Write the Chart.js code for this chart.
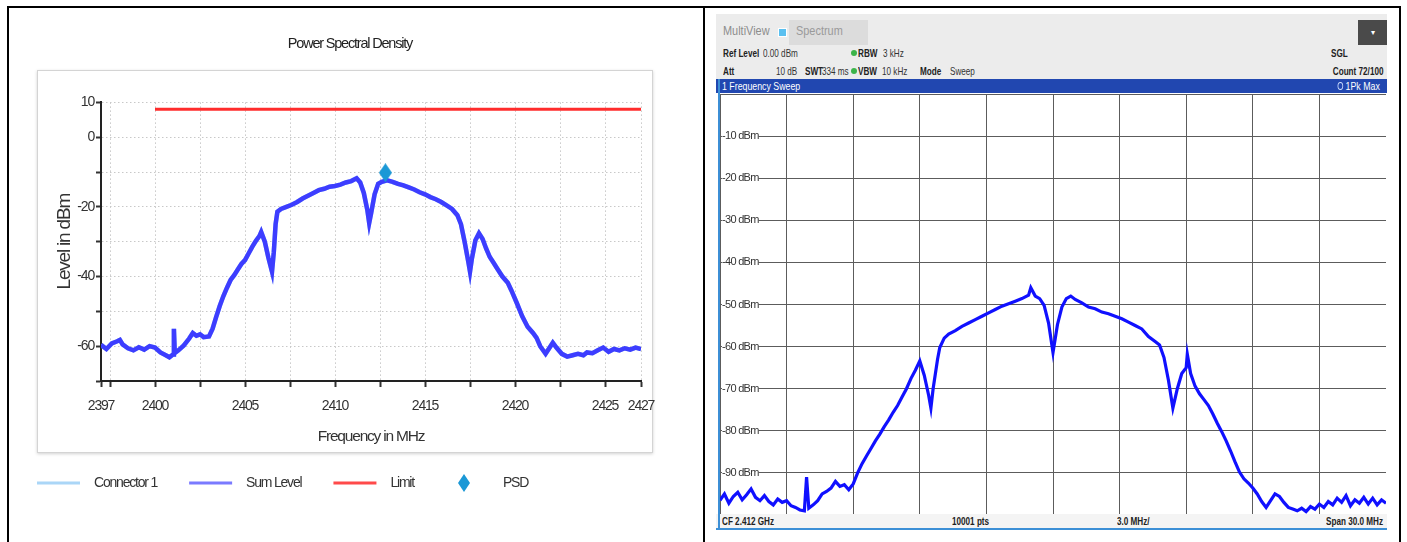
<!DOCTYPE html>
<html>
<head>
<meta charset="utf-8">
<script src="https://cdn.jsdelivr.net/npm/chart.js@4.4.1/dist/chart.umd.min.js"></script>
<style>
body{margin:0;width:1407px;height:542px;background:#fff;position:relative;overflow:hidden;
  font-family:'Liberation Sans',Arial,sans-serif;}
.ln{position:absolute;background:#000;}
#frame{position:absolute;left:37px;top:70px;width:614px;height:381px;border:1px solid #d4d4d4;
  box-shadow:0 1px 3px rgba(0,0,0,0.18);background:#fff;}
#psdChart{position:absolute;left:5px;top:10px;}
#saHead{position:absolute;left:716px;top:14px;width:671px;height:65px;background:#ececec;}
#saBar{position:absolute;left:716px;top:79px;width:671px;height:14px;background:#2147b0;color:#fff;font-size:11px;}
#saChart{position:absolute;left:720px;top:94px;}
#saFoot{position:absolute;left:716px;top:514px;width:671px;height:14px;background:#f4f4f4;border-bottom:2px solid #3c8fd6;font-size:11px;font-weight:bold;color:#222;}
#saLeft{position:absolute;left:718px;top:79px;width:2px;height:451px;background:#3c8fd6;}
.t{position:absolute;white-space:nowrap;line-height:12px;font-size:11px;transform:scaleX(.74);transform-origin:left top;}
.r{transform-origin:right top;}
.b{font-weight:bold;color:#222;}
.n{color:#333;}
.dot{position:absolute;width:6px;height:6px;border-radius:50%;background:#3cb44a;}
</style>
</head>
<body>
<div class="ln" style="left:7px;top:6px;width:1394px;height:2px"></div>
<div class="ln" style="left:7px;top:6px;width:2px;height:540px"></div>
<div class="ln" style="left:703px;top:6px;width:2px;height:540px"></div>
<div class="ln" style="left:1399px;top:6px;width:2px;height:540px"></div>

<div id="frame"></div>
<canvas id="psdChart" width="690" height="490"></canvas>

<div id="saHead">
  <span class="t" style="left:7px;top:11px;font-size:13px;color:#8c8c8c;transform:scaleX(.84)">MultiView</span>
  <span style="position:absolute;left:62px;top:14px;width:7px;height:7px;background:#5bc0f0;border:1px solid #fff"></span>
  <div style="position:absolute;left:73px;top:6px;width:79px;height:25px;background:#dcdcdc"></div>
  <span class="t" style="left:80px;top:11px;font-size:13px;color:#9a9a9a;transform:scaleX(.84)">Spectrum</span>
  <div style="position:absolute;left:642px;top:6px;width:29px;height:25px;background:#4a4a4a;color:#fff;font-size:8px;text-align:center;line-height:25px">&#9662;</div>
  <span class="t b" style="left:7px;top:33px">Ref Level</span>
  <span class="t n" style="left:47px;top:33px">0.00 dBm</span>
  <span class="dot" style="left:135px;top:36px"></span>
  <span class="t b" style="left:142px;top:33px">RBW</span>
  <span class="t n" style="left:167px;top:33px">3 kHz</span>
  <span class="t b" style="left:615px;top:33px">SGL</span>
  <span class="t b" style="left:7px;top:51px">Att</span>
  <span class="t n" style="left:60px;top:51px">10 dB</span>
  <span class="t b" style="left:89px;top:51px">SWT</span>
  <span class="t n" style="left:106px;top:51px">334 ms</span>
  <span class="dot" style="left:135px;top:54px"></span>
  <span class="t b" style="left:142px;top:51px">VBW</span>
  <span class="t n" style="left:166px;top:51px">10 kHz</span>
  <span class="t b" style="left:204px;top:51px">Mode</span>
  <span class="t n" style="left:234px;top:51px">Sweep</span>
  <span class="t b r" style="right:4px;top:51px">Count 72/100</span>
</div>
<div id="saBar">
  <span class="t" style="left:6px;top:1px;color:#fff;transform:scaleX(.8)">1 Frequency Sweep</span>
  <span class="t r" style="right:7px;top:1px;color:#fff;transform:scaleX(.8)"><span style="display:inline-block;width:5px;height:6px;border:1px solid #cfe0ff;border-radius:50%;margin-right:3px"></span>1Pk Max</span>
</div>
<canvas id="saChart" width="666" height="421"></canvas>
<div id="saFoot">
  <span class="t" style="left:6px;top:1px">CF 2.412 GHz</span>
  <span class="t" style="left:236px;top:1px">10001 pts</span>
  <span class="t" style="left:401px;top:1px">3.0 MHz/</span>
  <span class="t r" style="right:4px;top:1px">Span 30.0 MHz</span>
</div>
<div id="saLeft"></div>

<script>
const FONT = "'Liberation Sans',Arial,sans-serif";

// --- Power Spectral Density (left) ---
const psdFreq = [2397.0,2397.3,2397.6,2397.9,2398.05,2398.2,2398.5,2398.8,2399.1,2399.4,2399.7,2400.0,2400.3,2400.6,2400.8,2401.0,2401.05,2401.1,2401.3,2401.6,2401.9,2402.1,2402.3,2402.5,2402.7,2403.0,2403.2,2403.4,2403.6,2403.8,2404.0,2404.2,2404.4,2404.6,2404.8,2405.0,2405.2,2405.4,2405.6,2405.8,2405.9,2406.1,2406.3,2406.5,2406.6,2406.7,2406.8,2407.0,2407.3,2407.6,2407.9,2408.2,2408.5,2408.8,2409.1,2409.4,2409.7,2410.0,2410.3,2410.6,2410.9,2411.2,2411.4,2411.6,2411.8,2411.9,2412.0,2412.2,2412.4,2412.6,2412.9,2413.2,2413.5,2413.8,2414.1,2414.4,2414.7,2415.0,2415.3,2415.6,2415.9,2416.2,2416.5,2416.8,2417.0,2417.2,2417.4,2417.5,2417.6,2417.8,2418.0,2418.2,2418.4,2418.6,2418.8,2419.0,2419.3,2419.6,2419.8,2420.1,2420.4,2420.7,2421.0,2421.2,2421.4,2421.7,2421.9,2422.1,2422.3,2422.6,2422.9,2423.2,2423.5,2423.8,2424.0,2424.3,2424.6,2424.9,2425.2,2425.5,2425.8,2426.1,2426.4,2426.7,2427.0];
const psdLevel = [-59.6,-60.8,-59.2,-58.6,-58.2,-59.5,-60.6,-61.2,-60.3,-61.0,-60.0,-60.4,-61.8,-62.6,-63.2,-62.4,-55.0,-62.0,-61.2,-59.8,-57.8,-56.2,-57.0,-56.6,-57.4,-57.2,-55.0,-51.6,-48.4,-45.6,-43.2,-41.0,-39.6,-38.0,-36.4,-35.3,-33.4,-31.5,-29.8,-28.4,-27.2,-30.0,-34.6,-38.6,-33.0,-25.0,-21.4,-20.6,-20.0,-19.4,-18.6,-17.6,-16.8,-16.0,-15.2,-14.8,-14.2,-14.0,-13.6,-13.0,-12.6,-11.8,-13.0,-16.0,-21.0,-24.6,-22.0,-16.4,-13.4,-12.8,-12.4,-12.8,-13.4,-13.8,-14.4,-15.0,-15.8,-16.4,-17.2,-17.8,-18.6,-19.6,-20.6,-22.4,-25.0,-30.0,-35.6,-38.6,-35.0,-29.6,-27.6,-29.2,-32.0,-34.4,-36.0,-37.6,-40.0,-41.8,-44.0,-47.6,-51.4,-54.4,-56.2,-57.6,-60.0,-62.2,-60.6,-59.0,-60.4,-62.2,-63.0,-62.6,-62.2,-62.6,-61.8,-62.0,-61.2,-60.4,-61.6,-60.8,-61.2,-60.6,-61.0,-60.4,-60.8];
const limitFreq = [2400, 2427];
const limitLevel = [8, 8];
const markerFreq = [2412.8];
const markerLevel = [-10.2];
const psdXTicks = [2397, 2397.5, 2400, 2402.5, 2405, 2407.5, 2410, 2412.5, 2415, 2417.5, 2420, 2422.5, 2425, 2427];
const psdXLabels = [2397, 2400, 2405, 2410, 2415, 2420, 2425, 2427];
const psdYTicks = [-70, -60, -50, -40, -30, -20, -10, 0, 10];
const psdYLabels = [-60, -40, -20, 0, 10];

// --- Spectrum analyzer sweep (right) ---
const saFreq = [2397.0,2397.2,2397.4,2397.6,2397.8,2398.0,2398.2,2398.4,2398.6,2398.8,2399.0,2399.2,2399.4,2399.6,2399.8,2400.0,2400.2,2400.4,2400.6,2400.8,2400.9,2401.0,2401.2,2401.4,2401.6,2401.8,2402.0,2402.2,2402.4,2402.6,2402.8,2403.0,2403.2,2403.4,2403.6,2403.8,2404.0,2404.2,2404.4,2404.6,2404.8,2405.0,2405.2,2405.4,2405.6,2405.8,2406.0,2406.2,2406.4,2406.5,2406.6,2406.8,2406.9,2407.1,2407.3,2407.6,2407.9,2408.2,2408.5,2408.8,2409.1,2409.4,2409.7,2410.0,2410.3,2410.6,2410.9,2411.0,2411.2,2411.4,2411.6,2411.8,2412.0,2412.2,2412.4,2412.6,2412.8,2413.0,2413.3,2413.6,2413.9,2414.2,2414.5,2414.8,2415.1,2415.4,2415.7,2416.0,2416.3,2416.6,2416.8,2417.0,2417.2,2417.4,2417.6,2417.8,2418.0,2418.05,2418.2,2418.4,2418.6,2418.8,2419.0,2419.2,2419.4,2419.6,2419.8,2420.0,2420.2,2420.4,2420.6,2420.8,2421.0,2421.2,2421.4,2421.6,2421.8,2422.0,2422.2,2422.4,2422.6,2422.8,2423.0,2423.2,2423.4,2423.6,2423.8,2424.0,2424.2,2424.4,2424.6,2424.8,2425.0,2425.2,2425.4,2425.6,2425.8,2426.0,2426.2,2426.4,2426.6,2426.8,2427.0];
const saLevel = [-96.5,-95.0,-97.2,-95.6,-94.6,-96.4,-95.2,-93.8,-95.8,-96.6,-95.4,-96.8,-97.6,-96.2,-97.0,-96.6,-97.8,-98.2,-98.8,-99.0,-91.0,-98.4,-97.6,-96.6,-95.0,-94.4,-93.6,-92.0,-93.2,-92.8,-94.0,-92.6,-90.0,-87.8,-86.0,-84.2,-82.4,-80.8,-79.0,-77.4,-75.6,-74.0,-72.0,-70.0,-67.6,-65.6,-63.4,-66.8,-71.6,-74.6,-70.0,-63.0,-60.2,-58.0,-57.0,-56.2,-55.2,-54.4,-53.6,-52.8,-52.0,-51.2,-50.4,-49.8,-49.2,-48.6,-47.8,-46.0,-48.0,-48.6,-50.2,-54.4,-61.4,-54.8,-50.6,-48.6,-48.0,-48.8,-49.6,-50.6,-51.0,-51.8,-52.2,-52.8,-53.4,-54.2,-55.0,-55.8,-57.6,-58.8,-59.6,-62.6,-68.0,-74.6,-70.0,-66.4,-65.0,-61.8,-66.4,-69.4,-71.2,-72.6,-74.0,-76.0,-78.2,-80.2,-82.4,-84.8,-87.4,-89.8,-91.4,-92.4,-93.6,-95.0,-96.8,-98.2,-96.6,-95.0,-95.6,-97.0,-98.2,-98.6,-99.0,-98.4,-99.2,-98.0,-98.6,-97.4,-98.2,-96.8,-97.6,-96.0,-97.0,-95.4,-97.8,-96.4,-97.2,-95.8,-97.4,-96.0,-97.6,-96.4,-97.2];
const saXTicks = [2397, 2400, 2403, 2406, 2409, 2412, 2415, 2418, 2421, 2424, 2427];
const saYTicks = [-100, -90, -80, -70, -60, -50, -40, -30, -20, -10, 0];

function pts(xs, ys){ return xs.map((x, i) => ({x: x, y: ys[i]})); }

// the screenshot's text is condensed, tighten canvas letter spacing to match
const tightText = {
  id: 'tightText',
  beforeUpdate(chart, args, opts){ chart.ctx.letterSpacing = opts.spacing; },
  beforeDraw(chart, args, opts){ chart.ctx.letterSpacing = opts.spacing; }
};

function legendIcon(color, diamond){
  const c = document.createElement('canvas');
  c.width = 72; c.height = 20;
  const g = c.getContext('2d');
  g.fillStyle = color; g.strokeStyle = color;
  if (diamond) {
    g.beginPath();
    g.moveTo(40, 1); g.lineTo(46, 10); g.lineTo(40, 19); g.lineTo(34, 10);
    g.closePath(); g.fill();
  } else {
    g.lineWidth = 3;
    g.beginPath(); g.moveTo(22, 10); g.lineTo(65, 10); g.stroke();
  }
  return c;
}

const diamondMark = document.createElement('canvas');
diamondMark.width = 13; diamondMark.height = 19;
(function(){
  const g = diamondMark.getContext('2d');
  g.fillStyle = '#1b98d6';
  g.beginPath(); g.moveTo(6.5, 0); g.lineTo(13, 9.5); g.lineTo(6.5, 19); g.lineTo(0, 9.5); g.closePath(); g.fill();
})();

const legendIcons = [legendIcon('#aad6f7'), legendIcon('#7a7aff'), legendIcon('#ff4a4a'), legendIcon('#1b98d6', true)];

new Chart(document.getElementById('psdChart'), {
  type: 'line',
  data: {
    datasets: [
      {label: 'Connector 1', data: pts(psdFreq, psdLevel), borderColor: '#aad6f7', borderWidth: 4.5, pointRadius: 0, order: 4},
      {label: 'Sum Level', data: pts(psdFreq, psdLevel), borderColor: '#3d3dff', borderWidth: 4.5, pointRadius: 0, order: 1},
      {label: 'Limit', data: pts(limitFreq, limitLevel), borderColor: '#ff2c2c', borderWidth: 3, pointRadius: 0, order: 2},
      {label: 'PSD', data: pts(markerFreq, markerLevel), showLine: false, pointStyle: diamondMark, pointRadius: 7, order: 0}
    ]
  },
  plugins: [tightText],
  options: {
    responsive: false,
    animation: false,
    events: [],
    layout: {padding: 0},
    plugins: {
      tightText: {spacing: '-1.2px'},
      tooltip: {enabled: false},
      title: {
        display: true, text: 'Power Spectral Density', color: '#222',
        font: {family: FONT, size: 14.5, weight: 'normal'}, padding: {top: 25, bottom: 50}
      },
      legend: {
        position: 'bottom', align: 'start',
        labels: {
          usePointStyle: true, pointStyleWidth: 72, boxHeight: 14, padding: 10,
          color: '#333', font: {family: FONT, size: 14},
          sort: (a, b) => a.datasetIndex - b.datasetIndex,
          generateLabels(chart){
            const items = Chart.defaults.plugins.legend.labels.generateLabels(chart);
            items.forEach(it => { it.pointStyle = legendIcons[it.datasetIndex]; });
            return items;
          }
        }
      }
    },
    scales: {
      x: {
        type: 'linear', min: 2397, max: 2427,
        afterBuildTicks: s => { s.ticks = psdXTicks.map(v => ({value: v})); },
        afterFit: s => { s.height = 85; },
        ticks: {
          autoSkip: false, maxRotation: 0, padding: 11, color: '#333',
          font: {family: FONT, size: 14},
          callback: v => psdXLabels.includes(v) ? String(v) : ''
        },
        grid: {color: '#c8c8c8', tickColor: '#333', tickLength: 6, tickWidth: 2, tickBorderDash: []},
        border: {display: true, color: '#222', width: 2, dash: [1.5, 2.5]},
        title: {display: true, text: 'Frequency in MHz', color: '#333', font: {family: FONT, size: 15.5}, padding: {top: 4, bottom: 20}}
      },
      y: {
        min: -70, max: 10,
        afterBuildTicks: s => { s.ticks = psdYTicks.map(v => ({value: v})); },
        afterFit: s => { s.width = 96; },
        ticks: {
          autoSkip: false, padding: 2, color: '#333',
          font: {family: FONT, size: 14},
          callback: v => psdYLabels.includes(v) ? String(v) : ''
        },
        grid: {color: '#c8c8c8', tickColor: '#333', tickLength: 5, tickWidth: 2, tickBorderDash: []},
        border: {display: true, color: '#222', width: 2, dash: [1.5, 2.5]},
        title: {display: true, text: 'Level in dBm', color: '#333', font: {family: FONT, size: 19}, padding: {top: 48, bottom: 0}}
      },
      yRight: {
        position: 'right', display: true,
        afterFit: s => { s.width = 54; },
        ticks: {display: false}, grid: {display: false}, border: {display: false}
      }
    }
  }
});

new Chart(document.getElementById('saChart'), {
  type: 'line',
  data: {
    datasets: [
      {label: '1 Frequency Sweep', data: pts(saFreq, saLevel), borderColor: '#1010ff', borderWidth: 3.2, pointRadius: 0}
    ]
  },
  plugins: [tightText],
  options: {
    responsive: false,
    animation: false,
    events: [],
    layout: {padding: 0},
    plugins: {tightText: {spacing: '-0.7px'}, legend: {display: false}, tooltip: {enabled: false}},
    scales: {
      x: {
        type: 'linear', min: 2397, max: 2427,
        afterBuildTicks: s => { s.ticks = saXTicks.map(v => ({value: v})); },
        afterFit: s => { s.height = 0; s.paddingLeft = 0; s.paddingRight = 0; },
        ticks: {display: false},
        grid: {color: '#5c5c5c', drawTicks: false},
        border: {display: false}
      },
      y: {
        min: -100, max: 0,
        afterBuildTicks: s => { s.ticks = saYTicks.map(v => ({value: v})); },
        afterFit: s => { s.width = 0; s.paddingTop = 0; s.paddingBottom = 0; },
        ticks: {
          mirror: true, padding: 2, color: '#333',
          font: {family: FONT, size: 11},
          showLabelBackdrop: true, backdropColor: '#fff', backdropPadding: {top: 0, bottom: 2, left: 0, right: 0},
          callback: v => (v === 0 || v === -100) ? '' : v + ' dBm'
        },
        grid: {color: '#5c5c5c', drawTicks: false},
        border: {display: false}
      }
    }
  }
});
</script>
</body>
</html>
